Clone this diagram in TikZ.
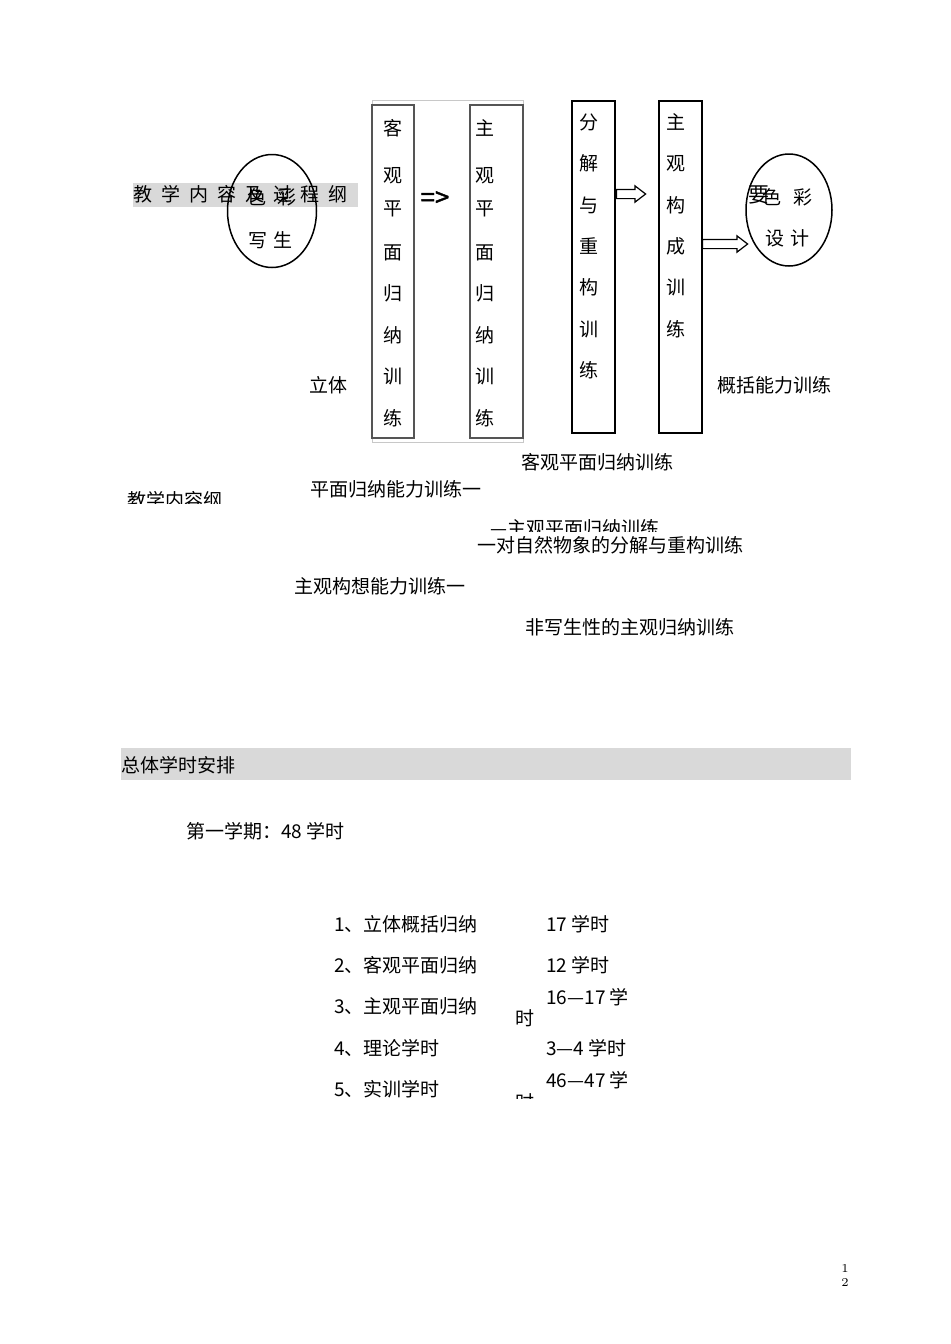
\documentclass[tikz,border=0pt]{standalone}
\usepackage{fontspec}
\newfontfamily\cjk{Noto Sans CJK SC}
\newfontfamily\cjkspaced[LetterSpace=47]{Noto Sans CJK SC}
\newfontfamily\cjkheavy[FakeBold=1.5]{Noto Sans CJK SC}
\usetikzlibrary{shapes.geometric, shapes.arrows, positioning}
\definecolor{bandgray}{RGB}{217,217,217}
\definecolor{boxgray}{RGB}{85,85,85}
\definecolor{framegray}{RGB}{200,200,200}

\begin{document}
\begin{tikzpicture}[
        x=0.5pt, y=-0.5pt,
        txt/.style={font=\cjk\fontsize{9.5pt}{11pt}\selectfont, inner sep=0pt},
        column/.style={font=\cjk\fontsize{9.5pt}{20.7pt}\selectfont, align=center, inner sep=0pt},
        tallbox/.style={rectangle, draw=black, line width=0.7pt, minimum width=21.5pt,
                        minimum height=166pt, inner sep=0pt},
        softbox/.style={rectangle, draw=boxgray, line width=0.6pt, minimum height=166.5pt, inner sep=0pt},
        oval/.style={ellipse, draw=black, line width=0.75pt, inner sep=0pt},
        hollow/.style={single arrow, draw=black, line width=0.6pt, minimum width=7.5pt,
                       single arrow head extend=1.75pt, single arrow tip angle=75,
                       inner xsep=0pt, inner ysep=2pt, anchor=west},
        band/.style={fill=bandgray}
    ]
        % page
        \path[fill=white] (0,0) rectangle (950,1344);
        \useasboundingbox (0,0) rectangle (950,1344);

        % heading band of the chart
        \fill[band] (133,183) rectangle (358,207);
        \node[txt, anchor=west, font=\cjkspaced\fontsize{9.5pt}{11pt}\selectfont] (title) at (133,194)
            {教学内容及过程纲};

        % left oval
        \node[oval, minimum width=44.5pt, minimum height=56.5pt] (sketch) at (272,211) {};
        \node[txt] (sketchA) at (272,197) {色\hspace{5.5pt}彩};
        \node[txt] (sketchB) at (270.5,240) {写\hspace{3pt}生};

        % plane boxes
        \draw[framegray, line width=0.5pt] (372,100) rectangle (523,442);
        \node[softbox, minimum width=21pt] (objbox) at (393,271.5) {};
        \node[softbox, minimum width=26.5pt] (subbox) at (496.5,271.5) {};
        \node[column] (objtext) at (393,273)
            {客\\[2.8pt]观\\[-4.2pt]平\\[1.3pt]面\\归\\纳\\训\\练};
        \node[column] (subtext) at (485,273)
            {主\\[2.8pt]观\\[-4.2pt]平\\[1.3pt]面\\归\\纳\\训\\练};
        \node[txt, font=\cjkheavy\fontsize{13pt}{14pt}\selectfont] (implies) at (435,199) {=>};

        % breakdown and construction boxes
        \node[tallbox] (splitbox) at (593.5,267) {};
        \node[tallbox] (buildbox) at (680.5,267) {};
        \node[column] (splittext) at (589,246.5) {分\\解\\与\\重\\构\\训\\练};
        \node[column] (buildtext) at (676,225.5) {主\\观\\构\\成\\训\\练};
        \node[hollow, minimum height=14.5pt] (arrA) at (616,194) {};
        \node[hollow, minimum height=22.5pt] (arrB) at (702,244) {};

        % right oval
        \node[oval, minimum width=43pt, minimum height=56pt] (colour) at (789,210) {};
        \node[txt, font=\cjk\fontsize{10.5pt}{11pt}\selectfont] (yao) at (759,195) {要};
        \node[txt] (colourA) at (787.5,197) {色\hspace{6pt}彩};
        \node[txt] (colourB) at (787.5,238) {设\hspace{3pt}计};

        % loose labels
        \node[txt] (solid) at (328,385) {立体};
        \node[txt] (general) at (774,385) {概括能力训练};
        \node[txt] (objplane) at (597,462) {客观平面归纳训练};
        \node[txt, anchor=west] (plane) at (310,489) {平面归纳能力训练一};
        \begin{scope}
            \clip (100,480) rectangle (240,503);
            \node[txt, anchor=west] (outline) at (127,500) {教学内容纲};
        \end{scope}
        \begin{scope}
            \clip (480,510) rectangle (680,531);
            \node[txt, anchor=west] (subplane) at (490,528) {—主观平面归纳训练};
        \end{scope}
        \node[txt, anchor=west] (nature) at (477,545) {一对自然物象的分解与重构训练};
        \node[txt, anchor=west] (idea) at (294,586) {主观构想能力训练一};
        \node[txt, anchor=west] (nonsketch) at (525,627) {非写生性的主观归纳训练};

        % hours
        \fill[band] (121,748) rectangle (851,780);
        \node[txt, anchor=west] (hours) at (121,765) {总体学时安排};
        \node[txt, anchor=west] (term) at (186,831) {第一学期：48 学时};

        \node[txt, anchor=west] (itemA) at (334,924) {1、立体概括归纳};
        \node[txt, anchor=west] (itemB) at (334,965) {2、客观平面归纳};
        \node[txt, anchor=west] (itemC) at (334,1006) {3、主观平面归纳};
        \node[txt, anchor=west] (itemD) at (334,1048) {4、理论学时};
        \node[txt, anchor=west] (itemE) at (334,1089) {5、实训学时};

        \node[txt, anchor=west] (hourA) at (546,924) {17 学时};
        \node[txt, anchor=west] (hourB) at (546,965) {12 学时};
        \node[txt, anchor=west] (hourC) at (546,997) {16—17 学};
        \node[txt, anchor=west] (hourCx) at (515,1018) {时};
        \node[txt, anchor=west] (hourD) at (546,1048) {3—4 学时};
        \node[txt, anchor=west] (hourE) at (546,1080) {46—47 学};
        \begin{scope}
            \clip (505,1085) rectangle (545,1098);
            \node[txt, anchor=west] (hourEx) at (515,1102) {时};
        \end{scope}

        % page number
        \node[font=\fontsize{6pt}{7pt}\selectfont, inner sep=0pt, align=center] (pageno) at (845,1275) {1\\2};
    \end{tikzpicture}
\end{document}
